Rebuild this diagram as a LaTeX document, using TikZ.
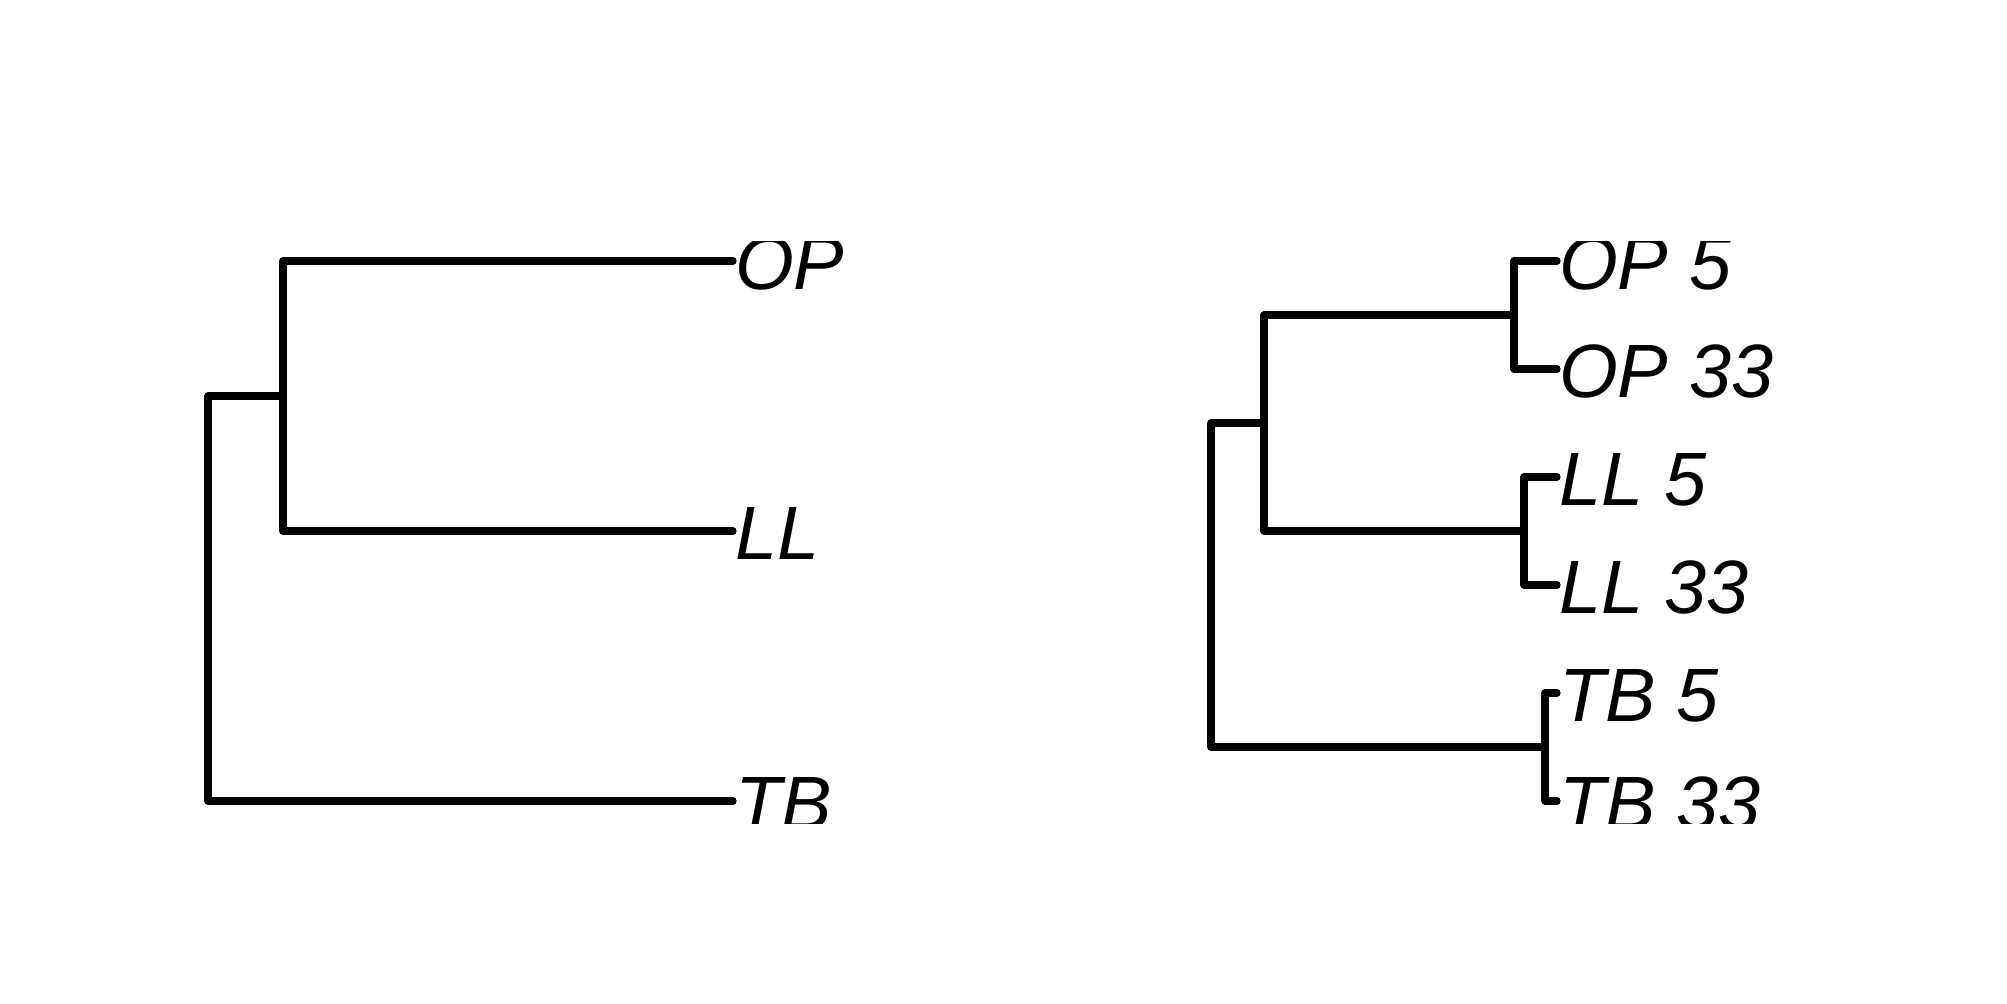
\documentclass[tikz,border=0pt]{standalone}
\usepackage{fontspec}
\newfontfamily\labfont{Liberation Sans}
\begin{document}
\begin{tikzpicture}[x=0.01cm,y=-0.01cm,
  branch/.style={line width=0.072cm,line cap=round,line join=round,black},
  lab/.style={anchor=base west,inner sep=0pt,outer sep=0pt,font=\labfont\itshape\fontsize{21.5pt}{25pt}\selectfont}]
\useasboundingbox[fill=white] (0,0) rectangle (2007,1003);
\begin{scope}
\clip (0,241) rectangle (2007,823);
% ---------- left tree ----------
\coordinate (Lr) at (208,396);
\coordinate (Li) at (283,396);
\coordinate (Lop) at (733,261);
\coordinate (Lll) at (733,531);
\coordinate (Ltb) at (733,801);
\draw[branch] (Lop) -| (Li) |- (Lll);
\draw[branch] (Li) -- (Lr) |- (Ltb);
\node[lab] (tLop) at (735,289.5) {OP};
\node[lab] (tLll) at (735,559.5) {LL};
\node[lab] (tLtb) at (735,829.5) {TB};
% ---------- right tree ----------
\coordinate (Rr) at (1211,423);
\coordinate (Ra) at (1264,423);
\coordinate (Rop) at (1514,315);
\coordinate (Rll) at (1524,531);
\coordinate (Rtb) at (1545,747);
\coordinate (ROPa) at (1557,261);
\coordinate (ROPb) at (1557,369);
\coordinate (RLLa) at (1557,477);
\coordinate (RLLb) at (1557,585);
\coordinate (RTBa) at (1557,693);
\coordinate (RTBb) at (1557,801);
\draw[branch] (ROPa) -| (Rop) |- (ROPb);
\draw[branch] (RLLa) -| (Rll) |- (RLLb);
\draw[branch] (RTBa) -| (Rtb) |- (RTBb);
\draw[branch] (Rop) -| (Ra) |- (Rll);
\draw[branch] (Ra) -- (Rr) |- (Rtb);
\node[lab] (tROPa) at (1559,289.5) {OP 5};
\node[lab] (tROPb) at (1559,397.5) {OP 33};
\node[lab] (tRLLa) at (1559,505.5) {LL 5};
\node[lab] (tRLLb) at (1559,613.5) {LL 33};
\node[lab] (tRTBa) at (1559,721.5) {TB 5};
\node[lab] (tRTBb) at (1559,829.5) {TB 33};
\end{scope}
\end{tikzpicture}
\end{document}
